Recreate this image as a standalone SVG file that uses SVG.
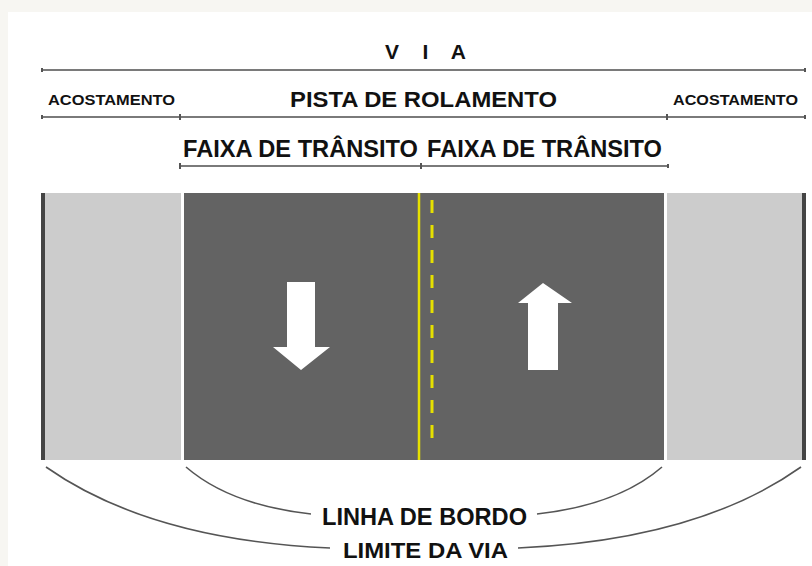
<svg xmlns="http://www.w3.org/2000/svg" width="812" height="566" viewBox="0 0 812 566">
<style>
.t{font-family:"Liberation Sans",Arial,sans-serif;font-weight:bold;fill:#111;text-anchor:start}
.dim{stroke:#7a7a7a;stroke-width:2;fill:none}
.tick{stroke:#555;stroke-width:2}
.cv{stroke:#555;stroke-width:1.6;fill:none}
</style>
<rect x="0" y="0" width="812" height="566" fill="#f7f6f2"/>
<rect x="8" y="12" width="804" height="554" fill="#ffffff"/>

<g id="dimensions">
  <line class="dim" x1="42" y1="70" x2="805" y2="70"/>
  <line class="tick" x1="42" y1="68" x2="42" y2="72"/>
  <line class="tick" x1="805" y1="68" x2="805" y2="72"/>
  <line class="dim" x1="42" y1="117" x2="805" y2="117"/>
  <line class="tick" x1="42" y1="115" x2="42" y2="119"/>
  <line class="tick" x1="180" y1="114" x2="180" y2="120"/>
  <line class="tick" x1="667" y1="114" x2="667" y2="120"/>
  <line class="tick" x1="805" y1="115" x2="805" y2="119"/>
  <line class="dim" x1="180" y1="166" x2="668" y2="166"/>
  <line class="tick" x1="180" y1="163" x2="180" y2="169"/>
  <line class="tick" x1="421" y1="163" x2="421" y2="169"/>
  <line class="tick" x1="668" y1="164" x2="668" y2="168"/>
</g>

<g id="label-via"><text class="t" x="385" y="59" font-size="21" textLength="81" lengthAdjust="spacing">V I A</text></g>
<g id="label-acost-left"><text class="t" x="48" y="105" font-size="15" textLength="127" lengthAdjust="spacingAndGlyphs">ACOSTAMENTO</text></g>
<g id="label-pista"><text class="t" x="290" y="107" font-size="22" textLength="267" lengthAdjust="spacingAndGlyphs">PISTA DE ROLAMENTO</text></g>
<g id="label-acost-right"><text class="t" x="673" y="105" font-size="15" textLength="125" lengthAdjust="spacingAndGlyphs">ACOSTAMENTO</text></g>
<g id="label-faixa-left"><text class="t" x="183" y="157" font-size="23" textLength="235" lengthAdjust="spacingAndGlyphs">FAIXA DE TRÂNSITO</text></g>
<g id="label-faixa-right"><text class="t" x="427" y="157" font-size="23" textLength="235" lengthAdjust="spacingAndGlyphs">FAIXA DE TRÂNSITO</text></g>

<g id="road">
  <rect x="41" y="193" width="4" height="267" fill="#444"/>
  <rect x="45" y="193" width="136" height="267" fill="#cccccc"/>
  <rect x="184" y="193" width="480" height="267" fill="#636363"/>
  <rect x="667" y="193" width="135" height="267" fill="#cccccc"/>
  <rect x="802" y="193" width="4" height="267" fill="#444"/>
  <line x1="419" y1="193" x2="419" y2="460" stroke="#e6e000" stroke-width="2.5"/>
  <line x1="432" y1="200" x2="432" y2="445" stroke="#e6e000" stroke-width="3" stroke-dasharray="13 12"/>
  <polygon points="287,282 315,282 315,347 330,347 301,370 273,347 287,347" fill="#ffffff"/>
  <polygon points="543,283 572,303 558,303 558,370 528,370 528,303 518,303" fill="#ffffff"/>
</g>

<g id="connectors">
  <path class="cv" d="M186,467 Q230,505 311,514"/>
  <path class="cv" d="M662,467 Q618,505 537,514"/>
  <path class="cv" d="M46,467 Q150,540 330,548"/>
  <path class="cv" d="M801,467 Q698,540 518,548"/>
</g>

<g id="label-bordo"><text class="t" x="322" y="525" font-size="23" textLength="205" lengthAdjust="spacingAndGlyphs">LINHA DE BORDO</text></g>
<g id="label-limite"><text class="t" x="343" y="558" font-size="22" textLength="165" lengthAdjust="spacingAndGlyphs">LIMITE DA VIA</text></g>
</svg>
